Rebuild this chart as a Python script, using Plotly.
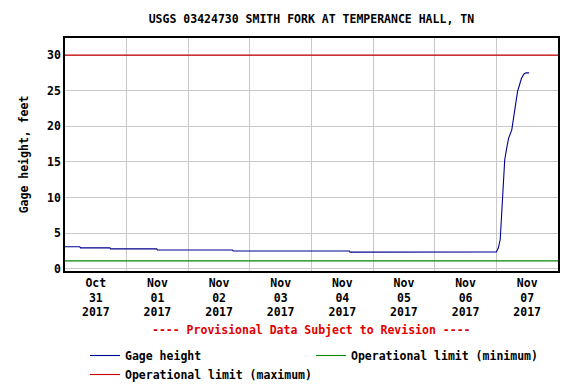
import plotly.graph_objects as go

title_text = "USGS 03424730 SMITH FORK AT TEMPERANCE HALL, TN"
y_title = "Gage height, feet"
note_text = "---- Provisional Data Subject to Revision ----"

gage_times = [
    "2017-10-31 00:00", "2017-10-31 05:45", "2017-10-31 06:00",
    "2017-10-31 17:30", "2017-10-31 17:45", "2017-11-01 11:45",
    "2017-11-01 12:00", "2017-11-02 17:15", "2017-11-02 17:30",
    "2017-11-04 14:45", "2017-11-04 15:00", "2017-11-06 23:45",
    "2017-11-07 00:00", "2017-11-07 00:45", "2017-11-07 01:30",
    "2017-11-07 02:00", "2017-11-07 02:30", "2017-11-07 02:45",
    "2017-11-07 03:15", "2017-11-07 04:00", "2017-11-07 04:45",
    "2017-11-07 06:00", "2017-11-07 06:45", "2017-11-07 07:45",
    "2017-11-07 08:15", "2017-11-07 09:00", "2017-11-07 09:45",
    "2017-11-07 10:45", "2017-11-07 11:30", "2017-11-07 12:45",
]
gage_values = [
    3.08, 3.08, 2.93,
    2.93, 2.78, 2.78,
    2.63, 2.63, 2.48,
    2.48, 2.33, 2.33,
    2.34, 2.9, 4.1,
    7.3, 10.6, 13.9,
    15.3, 16.9, 18.3,
    19.5, 21.4, 23.2,
    24.9, 25.8, 26.7,
    27.35, 27.5, 27.5,
]

limit_times = ["2017-10-31 00:00", "2017-11-08 00:00"]
limit_min = [1.1, 1.1]
limit_max = [30, 30]

tick_vals = ["2017-10-31 12:00", "2017-11-01 12:00", "2017-11-02 12:00",
             "2017-11-03 12:00", "2017-11-04 12:00", "2017-11-05 12:00",
             "2017-11-06 12:00", "2017-11-07 12:00"]
tick_text = ["Oct<br>31<br>2017", "Nov<br>01<br>2017", "Nov<br>02<br>2017",
             "Nov<br>03<br>2017", "Nov<br>04<br>2017", "Nov<br>05<br>2017",
             "Nov<br>06<br>2017", "Nov<br>07<br>2017"]
y_ticks = [0, 5, 10, 15, 20, 25, 30]

FONT = "DejaVu Sans Mono"
fnt = dict(family=FONT, size=11.5, color="black", weight="bold")

fig = go.Figure()
fig.add_trace(go.Scatter(x=gage_times, y=gage_values, mode="lines",
                         name="Gage height",
                         line=dict(color="#00008f", width=1.1)))
fig.add_trace(go.Scatter(x=limit_times, y=limit_min, mode="lines",
                         name="Operational limit (minimum)",
                         line=dict(color="#008a00", width=1.1)))
fig.add_trace(go.Scatter(x=limit_times, y=limit_max, mode="lines",
                         name="Operational limit (maximum)",
                         line=dict(color="#c80000", width=1.1)))

fig.update_layout(
    width=576, height=384,
    margin=dict(l=65, r=18, t=38, b=113, autoexpand=False),
    paper_bgcolor="white", plot_bgcolor="white",
    font=fnt,
    title=dict(text=title_text, x=0.5406, xanchor="center",
               y=1 - 19 / 384, yanchor="middle", font=fnt),
    xaxis=dict(
        type="date", automargin=False,
        range=["2017-10-31 00:00", "2017-11-08 00:00"],
        tickmode="array", tickvals=tick_vals, ticktext=tick_text,
        showgrid=False, ticks="", tickfont=fnt,
        showline=True, linecolor="black", linewidth=1.5, mirror=True,
        zeroline=False,
        minor=dict(tick0="2017-10-31 00:00", dtick=86400000, showgrid=True,
                   gridcolor="#c8c8c8", gridwidth=1, ticks=""),
    ),
    yaxis=dict(
        range=[-0.32, 32.4], automargin=False,
        tickmode="array", tickvals=y_ticks,
        showgrid=True, gridcolor="#c8c8c8", gridwidth=1,
        ticks="", tickfont=fnt, zeroline=False,
        showline=True, linecolor="black", linewidth=1.5, mirror=True,
        title=dict(text=y_title, font=fnt, standoff=16),
    ),
    legend=dict(
        orientation="h", x=85 / 576, xref="container", xanchor="left",
        y=1 - 341 / 384, yref="container", yanchor="top",
        entrywidth=181, entrywidthmode="pixels",
        font=fnt, bgcolor="rgba(0,0,0,0)",
        itemwidth=30, tracegroupgap=0,
    ),
    showlegend=True,
)

fig.add_annotation(text=note_text, xref="paper", yref="paper",
                   x=0.5, y=(271 - 330) / 233, xanchor="center",
                   yanchor="middle", showarrow=False,
                   font=dict(family=FONT, size=11.5, color="#e00000",
                             weight="bold"))

fig.write_html("out.html",
               config={"displayModeBar": False},
               post_script="document.body.style.margin='0';"
                           "document.body.style.overflow='hidden';")
